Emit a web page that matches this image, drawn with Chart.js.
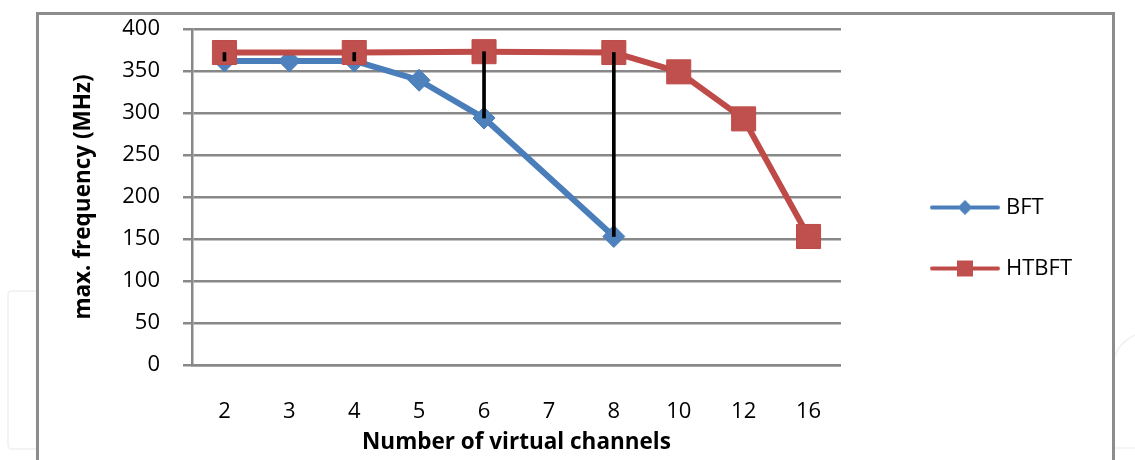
<!DOCTYPE html>
<html>
<head>
<meta charset="utf-8">
<script src="https://cdn.jsdelivr.net/npm/chart.js@4.4.1/dist/chart.umd.min.js"></script>
<style>
  html, body { margin: 0; padding: 0; background: #ffffff; }
  canvas { display: block; }
</style>
</head>
<body>
<canvas id="chart" width="1135" height="460"></canvas>
<script>
// Number of virtual channels on the category axis
const channels = ['2', '3', '4', '5', '6', '7', '8', '10', '12', '16'];
// Maximum frequency (MHz) per configuration; null where no result exists
const bftValues   = [362, 362, 362, 339, 294, null, 153, null, null, null];
const htbftValues = [372, null, 372, null, 373, null, 372, 349, 293, 153];
// Value axis ticks
const yTicks = [0, 50, 100, 150, 200, 250, 300, 350, 400];

const FONT = '"Open Sans", "Noto Sans", "DejaVu Sans", sans-serif';
const BLUE = '#4A7EBB';
const BLUE_FILL = '#4F81BD';
const RED = '#BE4B48';
const RED_FILL = '#C0504D';
const GRID = '#888888';

// High-low connectors between the two series where both have a value
const spans = channels.map((_, i) =>
  (bftValues[i] !== null && htbftValues[i] !== null) ? [bftValues[i], htbftValues[i]] : null);

// Legend symbol: a short line with the series marker in the middle
function legendSymbol(color, fill, shape) {
  const c = document.createElement('canvas');
  c.width = 125; c.height = 22;
  const g = c.getContext('2d');
  g.strokeStyle = color;
  g.lineWidth = 4;
  g.lineCap = 'round';
  g.beginPath();
  g.moveTo(57, 11); g.lineTo(123, 11);
  g.stroke();
  g.fillStyle = fill;
  g.beginPath();
  if (shape === 'diamond') {
    g.moveTo(90, 3.5); g.lineTo(97.5, 11); g.lineTo(90, 18.5); g.lineTo(82.5, 11);
  } else {
    g.rect(82, 3, 16, 16);
  }
  g.closePath();
  g.fill();
  return c;
}
const symbols = [legendSymbol(BLUE, BLUE_FILL, 'diamond'), legendSymbol(RED, RED_FILL, 'square')];

// Frame around the whole figure plus the faint background shapes
const framePlugin = {
  id: 'frame',
  beforeDraw(chart) {
    const ctx = chart.ctx;
    ctx.save();
    ctx.fillStyle = '#ffffff';
    ctx.fillRect(0, 0, chart.width, chart.height);
    ctx.strokeStyle = '#f0f0f0';
    ctx.lineWidth = 1.5;
    ctx.beginPath();
    ctx.moveTo(37, 291);
    ctx.lineTo(12, 291);
    ctx.quadraticCurveTo(8, 291, 8, 295);
    ctx.lineTo(8, 445);
    ctx.quadraticCurveTo(8, 449, 12, 449);
    ctx.lineTo(37, 449);
    ctx.stroke();
    ctx.beginPath();
    ctx.arc(1150, 370, 38, Math.PI * 1.05, Math.PI * 1.5);
    ctx.stroke();
    ctx.beginPath();
    ctx.moveTo(1114, 448); ctx.lineTo(1135, 448);
    ctx.stroke();
    ctx.strokeStyle = '#8c8c8c';
    ctx.lineWidth = 3;
    ctx.strokeRect(37.5, 13.5, 1076, 470);
    ctx.restore();
  }
};

new Chart(document.getElementById('chart'), {
  data: {
    labels: channels,
    datasets: [
      {
        type: 'bar',
        label: 'span',
        data: spans,
        backgroundColor: '#000000',
        borderWidth: 0,
        barThickness: 3,
        order: 0
      },
      {
        type: 'line',
        label: 'BFT',
        data: bftValues,
        borderColor: BLUE,
        borderWidth: 6,
        borderJoinStyle: 'round',
        borderCapStyle: 'round',
        tension: 0,
        spanGaps: true,
        pointStyle: 'rectRot',
        pointRadius: 11,
        pointHoverRadius: 11,
        pointBackgroundColor: BLUE_FILL,
        pointBorderColor: BLUE,
        pointBorderWidth: 1,
        order: 2
      },
      {
        type: 'line',
        label: 'HTBFT',
        data: htbftValues,
        borderColor: RED,
        borderWidth: 6,
        borderJoinStyle: 'round',
        borderCapStyle: 'round',
        tension: 0,
        spanGaps: true,
        pointStyle: 'rect',
        pointRadius: 17,
        pointHoverRadius: 17,
        pointBackgroundColor: RED_FILL,
        pointBorderColor: RED,
        pointBorderWidth: 1,
        order: 1
      }
    ]
  },
  options: {
    responsive: false,
    animation: false,
    events: [],
    layout: { padding: { top: 16, left: 0, right: 53, bottom: 0 } },
    scales: {
      x: {
        type: 'category',
        offset: true,
        afterFit(scale) { scale.height = 95; },
        grid: { display: false, drawTicks: false },
        border: { display: true, color: GRID, width: 2.5 },
        ticks: { padding: 33.5, color: '#000', font: { family: FONT, size: 22 } },
        title: {
          display: true,
          text: 'Number of virtual channels',
          color: '#000',
          font: { family: FONT, size: 22.5, weight: 'bold' },
          padding: { top: 4, bottom: 4 }
        }
      },
      y: {
        min: 0,
        max: 400,
        afterBuildTicks(scale) { scale.ticks = yTicks.map(v => ({ value: v })); },
        afterFit(scale) {
          scale.width = 192;
          scale.paddingTop = 12;
          scale.paddingBottom = 12;
        },
        grid: { color: GRID, lineWidth: 2.5, tickLength: 9, drawTicks: true },
        border: { display: true, color: GRID, width: 2.5 },
        ticks: { padding: 23, color: '#000', font: { family: FONT, size: 22 } },
        title: {
          display: true,
          text: 'max. frequency (MHz)',
          color: '#000',
          font: { family: FONT, size: 22.5, weight: 'bold' },
          padding: { top: 70, bottom: 0 }
        }
      }
    },
    plugins: {
      title: { display: true, text: '', padding: 0, font: { size: 13, lineHeight: 1 } },
      tooltip: { enabled: false },
      legend: {
        position: 'right',
        align: 'center',
        labels: {
          usePointStyle: true,
          pointStyleWidth: 115,
          padding: 39,
          color: '#000',
          font: { family: FONT, size: 22 },
          filter: item => item.datasetIndex !== 0,
          generateLabels(chart) {
            return chart.data.datasets.map((ds, i) => ({
              text: ds.label,
              datasetIndex: i,
              pointStyle: symbols[i - 1] || 'circle',
              fillStyle: ds.borderColor,
              strokeStyle: ds.borderColor,
              lineWidth: 0,
              hidden: false
            }));
          }
        }
      }
    }
  },
  plugins: [framePlugin]
});
</script>
</body>
</html>
